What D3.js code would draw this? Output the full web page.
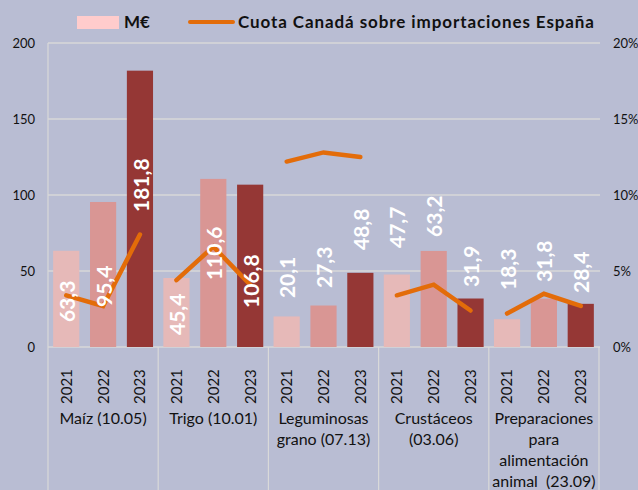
<!DOCTYPE html>
<html><head><meta charset="utf-8">
<script src="https://cdn.jsdelivr.net/npm/d3@7"></script>
<style>
html,body{margin:0;padding:0;background:#b9bdd3;}
svg{display:block;font-family:Lato,"Noto Sans",sans-serif;}
text{white-space:pre;}
</style></head>
<body>
<svg id="c" width="638" height="490"></svg>
<script>
// ---- data ----
const categories = [["Maíz (10.05)"],["Trigo (10.01)"],["Leguminosas","grano (07.13)"],["Crustáceos","(03.06)"],["Preparaciones","para","alimentación","animal  (23.09)"]];
const years = ["2021","2022","2023"];
const valuesMEUR = [
  [63.3, 95.4, 181.8],
  [45.4, 110.6, 106.8],
  [20.1, 27.3, 48.8],
  [47.7, 63.2, 31.9],
  [18.3, 31.8, 28.4]
];
const sharePct = [
  [3.4, 2.7, 7.4],
  [4.4, 6.6, 4.1],
  [12.2, 12.8, 12.5],
  [3.4, 4.1, 2.4],
  [2.2, 3.5, 2.7]
];
// where each value label begins, in M€ units (labels were hand-placed)
const labelAnchor = [
  [16.4, 26.3, 88.8],
  [7.9, 44, 25.7],
  [32.2, 38.8, 63.8],
  [65.1, 72.4, 39.5],
  [37.5, 42.8, 35.5]
];
const leftTicks = [0, 50, 100, 150, 200];
const rightTicks = [0, 0.05, 0.10, 0.15, 0.20];
const legendLabels = ["M€", "Cuota Canadá sobre importaciones España"];

// ---- style ----
const barColors = ["#e6b9b8", "#d99694", "#953735"];
const lineColor = "#e36c09";
const gridColor = "#d9d9d9";

const svg = d3.select("#c");
const L = 48, R = 599, T = 43, B = 347;

const yL = d3.scaleLinear().domain([0, 200]).range([B, T]);
const yR = d3.scaleLinear().domain([0, 0.20]).range([B, T]);
const x0 = d3.scaleBand().domain(d3.range(categories.length)).range([L, R]).padding(0);
const x1 = d3.scaleBand().domain(years).range([0, x0.bandwidth()]).paddingInner(0.29).paddingOuter(0.14);

// gridlines
svg.append("g").selectAll("line").data(leftTicks).join("line")
  .attr("x1", L).attr("x2", R + 1)
  .attr("y1", d => yL(d)).attr("y2", d => yL(d))
  .attr("stroke", gridColor).attr("stroke-width", 1.5);

// left vertical line
svg.append("line").attr("x1", L).attr("x2", L).attr("y1", T).attr("y2", 490)
  .attr("stroke", gridColor).attr("stroke-width", 1.2);
// category separators
svg.append("g").selectAll("line").data(d3.range(1, categories.length + 1)).join("line")
  .attr("x1", i => i < categories.length ? x0(i) : R).attr("x2", i => i < categories.length ? x0(i) : R)
  .attr("y1", B).attr("y2", 490)
  .attr("stroke", gridColor).attr("stroke-width", 1.2);

// left axis
const axL = d3.axisLeft(yL).tickValues(leftTicks).tickSize(0).tickPadding(0);
const gL = svg.append("g").attr("transform", `translate(35,0)`).call(axL);
gL.select(".domain").remove();
gL.selectAll("text").attr("font-size", 13).attr("fill", "#111").attr("font-family", "Lato,sans-serif");

// right axis
const axR = d3.axisRight(yR).tickValues(rightTicks).tickSize(0).tickPadding(0).tickFormat(d3.format(".0%"));
const gR = svg.append("g").attr("transform", `translate(613,0)`).call(axR);
gR.select(".domain").remove();
gR.selectAll("text").attr("font-size", 13).attr("fill", "#111").attr("font-family", "Lato,sans-serif");

// bars
const groups = svg.append("g").selectAll("g").data(valuesMEUR).join("g")
  .attr("transform", (d, i) => `translate(${x0(i)},0)`);
groups.selectAll("rect").data(d => d).join("rect")
  .attr("x", (d, j) => x1(years[j]))
  .attr("width", x1.bandwidth())
  .attr("y", d => yL(d))
  .attr("height", d => B - yL(d))
  .attr("fill", (d, j) => barColors[j]);

// share lines (one per category)
const line = d3.line().x((d, j) => x1(years[j]) + x1.bandwidth() / 2).y(d => yR(d / 100));
groups.append("path").attr("d", (d, i) => line(sharePct[i]))
  .attr("fill", "none").attr("stroke", lineColor).attr("stroke-width", 4.5)
  .attr("stroke-linecap", "round").attr("stroke-linejoin", "miter");

// value labels
const fmt = v => d3.format(".1f")(v).replace(".", ",");
groups.each(function (d, i) {
  d3.select(this).selectAll("text.v").data(d).join("text").attr("class", "v")
    .attr("transform", (v, j) => `translate(${x1(years[j]) + x1.bandwidth() / 2 + 1},${yL(labelAnchor[i][j])}) rotate(-90)`)
    .attr("dy", "0.36em")
    .attr("fill", "#fff").attr("font-weight", "bold").attr("font-size", 21)
    .text(v => fmt(v));
});

// year labels
groups.selectAll("text.y").data(years).join("text").attr("class", "y")
  .attr("transform", yr => `translate(${x1(yr) + x1.bandwidth() / 2},${404}) rotate(-90)`)
  .attr("dy", "0.36em").attr("font-size", 15).attr("fill", "#111")
  .text(yr => yr);

// category labels
groups.each(function (d, i) {
  d3.select(this).append("text").attr("text-anchor", "middle")
    .attr("font-size", 16).attr("fill", "#111")
    .selectAll("tspan").data(categories[i]).join("tspan")
    .attr("x", x0.bandwidth() / 2).attr("y", (t, k) => 424 + k * 21)
    .text(t => t);
});

// legend
const lg = svg.append("g");
lg.append("rect").attr("x", 77).attr("y", 16).attr("width", 42).attr("height", 13).attr("fill", "#ffcccc");
lg.append("text").attr("x", 124).attr("y", 28).attr("font-size", 17).attr("font-weight", "bold").attr("fill", "#111").text(legendLabels[0]);
lg.append("line").attr("x1", 190).attr("x2", 233).attr("y1", 22).attr("y2", 22)
  .attr("stroke", lineColor).attr("stroke-width", 4).attr("stroke-linecap", "round");
lg.append("text").attr("x", 238).attr("y", 28).attr("font-size", 17).attr("font-weight", "bold").attr("fill", "#111")
  .attr("textLength", 356).attr("lengthAdjust", "spacing").text(legendLabels[1]);
</script>
</body></html>
